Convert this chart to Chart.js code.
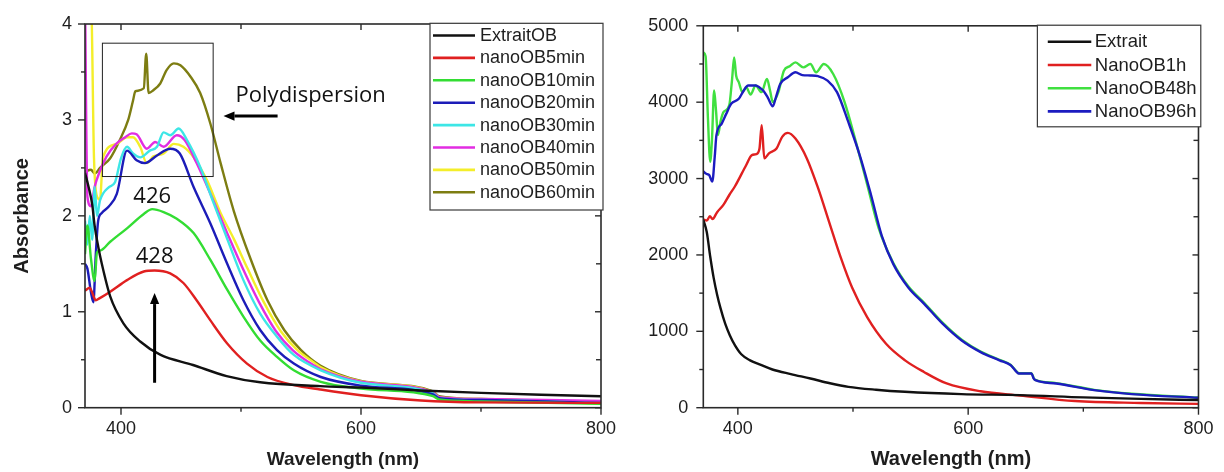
<!DOCTYPE html>
<html>
<head>
<meta charset="utf-8">
<title>UV-Vis absorbance spectra</title>
<script src="https://cdn.jsdelivr.net/npm/chart.js@4.4.0/dist/chart.umd.min.js"></script>
<style>
  html, body { margin: 0; padding: 0; background: #ffffff; }
  #wrap { position: relative; width: 1224px; height: 472px; overflow: hidden; background: #ffffff; }
  canvas { position: absolute; top: 0; }
  #left { left: 0; }
  #right { left: 630px; }
</style>
</head>
<body>
<div id="wrap">
  <canvas id="left" width="630" height="472"></canvas>
  <canvas id="right" width="594" height="472"></canvas>
</div>
<script>
// ---------- Panel A: synthesis time series (absorbance) ----------
const wlExtraitOB = [370, 373, 376, 378, 381, 384, 391, 402, 416, 433, 460, 488, 516, 566, 600, 650, 700, 750, 800];
const absExtraitOB = [2.45, 2.3, 2.12, 1.9, 1.68, 1.5, 1.16, 0.88, 0.69, 0.55, 0.445, 0.33, 0.265, 0.225, 0.21, 0.18, 0.155, 0.135, 0.12];

const wl5min = [370, 374, 376, 379, 382, 391, 405, 419, 428, 441, 452, 463, 474.5, 488.5, 505, 522, 544, 566, 600, 650, 700, 800];
const abs5min = [1.22, 1.25, 1.2, 1.12, 1.14, 1.21, 1.33, 1.42, 1.43, 1.40, 1.30, 1.12, 0.91, 0.67, 0.46, 0.32, 0.236, 0.19, 0.13, 0.075, 0.055, 0.05];

const wl10min = [370, 372, 375, 378, 380, 383, 391, 405, 419, 426, 435.5, 446.5, 460.5, 474.5, 488.5, 502, 516, 530, 544, 566.5, 600, 660, 665, 700, 800];
const abs10min = [1.6, 1.9, 1.55, 1.32, 1.62, 1.64, 1.73, 1.87, 2.02, 2.07, 2.04, 1.97, 1.82, 1.54, 1.23, 0.95, 0.70, 0.53, 0.39, 0.27, 0.2, 0.12, 0.085, 0.065, 0.04];

const wl20min = [370, 372, 375, 377, 379, 381, 384, 390, 396.5, 405, 413, 420, 430, 441, 449, 460.5, 474.5, 488.5, 502, 516, 530, 544, 566.5, 600, 660, 665, 700, 800];
const abs20min = [1.5, 1.45, 1.2, 1.1, 1.6, 1.95, 2.03, 2.1, 2.23, 2.68, 2.58, 2.55, 2.63, 2.70, 2.65, 2.30, 1.92, 1.50, 1.12, 0.81, 0.60, 0.46, 0.32, 0.23, 0.14, 0.1, 0.08, 0.05];

const wl30min = [370, 372, 374, 376, 378, 380, 382.5, 390, 395, 400, 405, 410, 416, 424, 430, 435.5, 441, 448, 455, 466, 477, 488.5, 502, 516, 530, 544, 566.5, 600, 660, 665, 700, 800];
const abs30min = [1.95, 1.7, 2.0, 1.75, 2.3, 2.0, 2.16, 2.3, 2.35, 2.6, 2.72, 2.65, 2.61, 2.68, 2.72, 2.87, 2.84, 2.91, 2.79, 2.51, 2.14, 1.76, 1.33, 0.98, 0.74, 0.55, 0.39, 0.26, 0.15, 0.1, 0.08, 0.05];

const wl40min = [370, 372, 375, 378, 382.5, 388, 396, 403.5, 409, 413, 421.5, 428.5, 435.5, 446.5, 453, 463, 474.5, 488.5, 501.5, 515, 529, 543, 557, 566.5, 600, 660, 665, 700, 800];
const abs40min = [4.3, 2.2, 2.1, 2.3, 2.47, 2.62, 2.75, 2.82, 2.86, 2.85, 2.70, 2.77, 2.72, 2.84, 2.79, 2.55, 2.23, 1.82, 1.45, 1.10, 0.80, 0.60, 0.47, 0.40, 0.27, 0.16, 0.11, 0.09, 0.07];

const wl50min = [370, 375, 377.5, 380, 382.5, 385, 396.5, 405, 410, 416, 421.5, 427, 435.5, 444, 452, 460.5, 471.7, 483, 494, 505.5, 519, 533, 547, 561, 566.5, 600, 660, 665, 700, 800];
const abs50min = [4.4, 4.3, 2.6, 2.2, 2.17, 2.61, 2.75, 2.82, 2.82, 2.72, 2.55, 2.62, 2.65, 2.75, 2.72, 2.61, 2.37, 2.03, 1.76, 1.45, 1.10, 0.80, 0.60, 0.47, 0.42, 0.275, 0.165, 0.11, 0.09, 0.04];

const wl60min = [370, 375, 378, 382.5, 391, 399, 406, 410, 412, 419, 421, 423, 427, 432.7, 438, 444, 449.5, 458, 466, 474.5, 483, 494, 508, 522, 536, 550, 566, 600, 660, 665, 700, 800];
const abs60min = [2.46, 2.48, 2.44, 2.5, 2.6, 2.79, 3.0, 3.2, 3.3, 3.33, 3.69, 3.28, 3.31, 3.38, 3.52, 3.59, 3.57, 3.45, 3.28, 2.96, 2.55, 2.05, 1.55, 1.12, 0.81, 0.60, 0.44, 0.28, 0.17, 0.12, 0.09, 0.05];

// ---------- Panel B: ageing series ----------
const wlExtrait = [370, 373, 376, 379, 382, 385, 389, 393, 397.4, 403, 410.6, 420, 430, 446, 463, 480, 496, 520, 545, 594, 645, 700, 750, 800];
const valExtrait = [2460, 2300, 1980, 1700, 1480, 1300, 1100, 950, 820, 700, 620, 560, 500, 440, 382, 320, 273, 235, 208, 178, 165, 135, 115, 100];

const wl1h = [370, 373, 375.7, 378, 382, 387.6, 392.7, 397.4, 407.3, 412.2, 416, 418.8, 420.7, 423, 427, 433.6, 438.5, 443.4, 450, 459.9, 469.7, 479.5, 489.4, 499.2, 512.4, 528.7, 545.2, 561.6, 581.3, 610.8, 645, 692.9, 750, 800];
const val1h = [2467, 2450, 2506, 2470, 2560, 2658, 2788, 2896, 3178, 3308, 3320, 3394, 3698, 3264, 3329, 3394, 3546, 3598, 3524, 3264, 2874, 2420, 1964, 1573, 1183, 837, 620, 468, 317, 215, 160, 87, 62, 50];

const wl48h = [370, 372, 374, 376, 377.5, 379.4, 381, 382.7, 385, 387.6, 392.5, 395, 396.8, 398.5, 400.8, 404, 407.3, 411, 415.5, 420.5, 425.3, 428, 430.3, 435.2, 440, 445, 450, 456.8, 463, 468, 474.6, 482.8, 492.7, 502.5, 512.4, 522.2, 535, 548, 562, 578, 594.4, 610.8, 627.2, 637, 642, 644, 655, 657, 658.4, 676.5, 709.3, 742, 800];
const val48h = [4650, 4600, 3800, 3219, 3500, 4153, 3900, 3570, 3750, 3871, 3958, 4300, 4586, 4350, 4262, 4131, 4196, 4100, 4218, 4131, 4304, 4150, 4001, 4131, 4413, 4470, 4521, 4456, 4500, 4391, 4499, 4369, 4001, 3481, 2918, 2354, 1895, 1590, 1370, 1110, 890, 735, 628, 560, 475, 452, 452, 385, 365, 322, 234, 182, 133];

const wl96h = [370, 373, 375, 377.8, 380, 381.4, 386, 390, 394.2, 400.8, 405, 409, 415.5, 419, 422, 426, 430.3, 433, 436.8, 443.4, 450, 456, 463, 469.7, 477.9, 486.1, 495.9, 505.8, 515.6, 525, 535, 548, 562, 578, 594.4, 610.8, 627.2, 637, 642, 644, 655, 657, 658.4, 676.5, 709.3, 742, 800];
const val96h = [3091, 3060, 3048, 2961, 3300, 3568, 3720, 3850, 3979, 4044, 4150, 4218, 4218, 4190, 4153, 4060, 3945, 4060, 4239, 4326, 4391, 4355, 4350, 4340, 4283, 4131, 3741, 3308, 2788, 2250, 1880, 1575, 1357, 1097, 880, 728, 620, 555, 470, 447, 447, 380, 360, 317, 230, 178, 130];

// ---------- Axis ticks ----------
const xMajor = [400, 600, 800];
const xMinor = [500, 700];
const yMajorA = [0, 1, 2, 3, 4];
const yMinorA = [0.5, 1.5, 2.5, 3.5];
const yMajorB = [0, 1000, 2000, 3000, 4000, 5000];
const yMinorB = [500, 1500, 2500, 3500, 4500];

// ---------- Annotations on panel A (data units) ----------
const polyBox = { x0: 384.5, x1: 476.8, y0: 2.41, y1: 3.80 };
const noteTexts = [
  { text: 'Polydispersion', x: 495.5, y: 3.19, align: 'left' },
  { text: '426', x: 426, y: 2.135, align: 'center' },
  { text: '428', x: 428, y: 1.504, align: 'center' }
];
const noteArrows = [
  { x0: 530.5, y0: 3.04, x1: 485.4, y1: 3.04 },
  { x0: 428, y0: 0.26, x1: 428, y1: 1.195 }
];

const FONT = "'Liberation Sans', Arial, Helvetica, sans-serif";
Chart.defaults.font.family = FONT;
Chart.defaults.color = '#1e1e1e';

const pts = (w, v) => w.map((x, i) => ({ x, y: v[i] }));

const seriesA = [
  { label: 'ExtraitOB',   wl: wlExtraitOB, v: absExtraitOB, color: '#111111' },
  { label: 'nanoOB5min',  wl: wl5min,  v: abs5min,  color: '#e02020' },
  { label: 'nanoOB10min', wl: wl10min, v: abs10min, color: '#33dd33' },
  { label: 'nanoOB20min', wl: wl20min, v: abs20min, color: '#1c1cb8' },
  { label: 'nanoOB30min', wl: wl30min, v: abs30min, color: '#3de6e6' },
  { label: 'nanoOB40min', wl: wl40min, v: abs40min, color: '#e22de2' },
  { label: 'nanoOB50min', wl: wl50min, v: abs50min, color: '#f4ee2a' },
  { label: 'nanoOB60min', wl: wl60min, v: abs60min, color: '#7d7d12' }
];
const seriesB = [
  { label: 'Extrait',   wl: wlExtrait, v: valExtrait, color: '#111111', order: 0 },
  { label: 'NanoOB1h',  wl: wl1h,  v: val1h,  color: '#e02020', order: 1 },
  { label: 'NanoOB48h', wl: wl48h, v: val48h, color: '#40e040', order: 3 },
  { label: 'NanoOB96h', wl: wl96h, v: val96h, color: '#1c1cc0', order: 2 }
];

// Box frame with Origin-style ticks: outward on left/bottom, inward on top/right
const framePlugin = {
  id: 'frame',
  afterDatasetsDraw(chart, args, o) {
    const { ctx, chartArea: a, scales: { x, y } } = chart;
    ctx.save();
    ctx.strokeStyle = '#2a2a2a';
    ctx.lineWidth = 1.6;
    ctx.strokeRect(a.left, a.top, a.right - a.left, a.bottom - a.top);
    ctx.lineWidth = 1.4;
    const seg = (x1, y1, x2, y2) => { ctx.beginPath(); ctx.moveTo(x1, y1); ctx.lineTo(x2, y2); ctx.stroke(); };
    o.xMajor.forEach(v => { const p = x.getPixelForValue(v); seg(p, a.bottom, p, a.bottom + 7); seg(p, a.top, p, a.top + 6); });
    o.xMinor.forEach(v => { const p = x.getPixelForValue(v); seg(p, a.bottom, p, a.bottom + 4); seg(p, a.top, p, a.top + 5); });
    o.yMajor.forEach(v => { const p = y.getPixelForValue(v); seg(a.left - 7, p, a.left, p); seg(a.right, p, a.right - 6, p); });
    o.yMinor.forEach(v => { const p = y.getPixelForValue(v); seg(a.left - 4, p, a.left, p); seg(a.right, p, a.right - 5, p); });
    ctx.restore();
  }
};

// Boxed legend in the upper right corner of the plot
const boxLegendPlugin = {
  id: 'boxLegend',
  afterDraw(chart, args, o) {
    const { ctx, chartArea: a } = chart;
    const x0 = a.right + o.dx - o.w, y0 = a.top + o.dy;
    ctx.save();
    ctx.fillStyle = '#ffffff';
    ctx.fillRect(x0, y0, o.w, o.h);
    ctx.strokeStyle = '#3a3a3a';
    ctx.lineWidth = 1.2;
    ctx.strokeRect(x0, y0, o.w, o.h);
    ctx.font = o.fontSize + 'px ' + FONT;
    ctx.textBaseline = 'middle';
    ctx.textAlign = 'left';
    chart.data.datasets.forEach((ds, i) => {
      const ry = y0 + o.first + i * o.pitch;
      ctx.strokeStyle = ds.borderColor;
      ctx.lineWidth = 2.6;
      ctx.beginPath(); ctx.moveTo(x0 + o.s0, ry); ctx.lineTo(x0 + o.s1, ry); ctx.stroke();
      ctx.fillStyle = '#1e1e1e';
      ctx.fillText(ds.label, x0 + o.tx, ry + 0.5);
    });
    ctx.restore();
  }
};

// Peak labels, polydispersion box and arrows
const notesPlugin = {
  id: 'notes',
  afterDatasetsDraw(chart) {
    const { ctx, scales: { x, y } } = chart;
    ctx.save();
    ctx.strokeStyle = '#222222';
    ctx.lineWidth = 1;
    const bx0 = x.getPixelForValue(polyBox.x0), bx1 = x.getPixelForValue(polyBox.x1);
    const by0 = y.getPixelForValue(polyBox.y0), by1 = y.getPixelForValue(polyBox.y1);
    ctx.strokeRect(bx0, by1, bx1 - bx0, by0 - by1);

    ctx.fillStyle = '#111111';
    ctx.font = "22px 'Open Sans', 'Noto Sans', sans-serif";
    ctx.textBaseline = 'alphabetic';
    noteTexts.forEach(t => {
      ctx.textAlign = t.align;
      ctx.fillText(t.text, x.getPixelForValue(t.x), y.getPixelForValue(t.y));
    });

    noteArrows.forEach(ar => {
      const px0 = x.getPixelForValue(ar.x0), py0 = y.getPixelForValue(ar.y0);
      const px1 = x.getPixelForValue(ar.x1), py1 = y.getPixelForValue(ar.y1);
      const ang = Math.atan2(py1 - py0, px1 - px0);
      const head = 11, half = 4.6;
      const bx = px1 - head * Math.cos(ang), by = py1 - head * Math.sin(ang);
      ctx.strokeStyle = '#000000';
      ctx.lineWidth = 3;
      ctx.beginPath(); ctx.moveTo(px0, py0); ctx.lineTo(bx, by); ctx.stroke();
      ctx.fillStyle = '#000000';
      ctx.beginPath();
      ctx.moveTo(px1, py1);
      ctx.lineTo(bx + half * Math.sin(ang), by - half * Math.cos(ang));
      ctx.lineTo(bx - half * Math.sin(ang), by + half * Math.cos(ang));
      ctx.closePath();
      ctx.fill();
    });
    ctx.restore();
  }
};

function buildChart(canvasId, series, cfg) {
  return new Chart(document.getElementById(canvasId), {
    type: 'line',
    data: {
      datasets: series.map(s => ({
        label: s.label,
        data: pts(s.wl, s.v),
        borderColor: s.color,
        backgroundColor: s.color,
        borderWidth: 2.4,
        pointRadius: 0,
        fill: false,
        cubicInterpolationMode: 'monotone',
        order: s.order === undefined ? 0 : s.order
      }))
    },
    options: {
      responsive: false,
      animation: false,
      events: [],
      layout: { padding: { left: 0, right: cfg.padRight, top: cfg.padTop, bottom: 0 } },
      plugins: {
        legend: { display: false },
        tooltip: { enabled: false },
        frame: { xMajor, xMinor, yMajor: cfg.yMajor, yMinor: cfg.yMinor },
        boxLegend: cfg.legend
      },
      scales: {
        x: {
          type: 'linear', min: 370, max: 800,
          afterBuildTicks: s => { s.ticks = xMajor.map(v => ({ value: v })); },
          afterFit: s => { s.height = cfg.xHeight; },
          grid: { display: false, drawTicks: false },
          border: { display: false },
          ticks: { padding: 10.5, font: { size: 18 }, color: '#1e1e1e', maxRotation: 0, autoSkip: false, callback: v => String(v) },
          title: { display: true, text: 'Wavelength (nm)', font: { size: cfg.titleSize, weight: 'bold' }, color: '#1e1e1e', padding: { top: 0, bottom: cfg.titlePad } }
        },
        y: {
          type: 'linear', min: cfg.yMin, max: cfg.yMax,
          afterBuildTicks: s => { s.ticks = cfg.yMajor.map(v => ({ value: v })); },
          afterFit: s => { s.width = cfg.yWidth; },
          grid: { display: false, drawTicks: false },
          border: { display: false },
          ticks: { padding: cfg.yPad, font: { size: 18 }, color: '#1e1e1e', autoSkip: false, callback: v => String(v) },
          title: cfg.yTitle
            ? { display: true, text: cfg.yTitle, font: { size: 20, weight: 'bold' }, color: '#1e1e1e', padding: { top: 10, bottom: 0 } }
            : { display: false }
        }
      }
    },
    plugins: cfg.extra ? [framePlugin, cfg.extra, boxLegendPlugin] : [framePlugin, boxLegendPlugin]
  });
}

buildChart('left', seriesA, {
  padRight: 29, padTop: 24, xHeight: 64.3, yWidth: 85, yPad: 13,
  yMin: 0, yMax: 4, yMajor: yMajorA, yMinor: yMinorA,
  titleSize: 19, titlePad: 1, yTitle: 'Absorbance',
  legend: { dx: 2, dy: -0.7, w: 173, h: 186.7, first: 12.2, pitch: 22.4, s0: 3, s1: 45, tx: 50, fontSize: 18 },
  extra: notesPlugin
});

buildChart('right', seriesB, {
  padRight: 16.3, padTop: 23.3, xHeight: 64.3, yWidth: 73.3, yPad: 15,
  yMin: 0, yMax: 5000, yMajor: yMajorB, yMinor: yMinorB,
  titleSize: 20, titlePad: 1, yTitle: null,
  legend: { dx: 2.3, dy: -0.6, w: 163.4, h: 101.6, first: 16.6, pitch: 23.2, s0: 10.4, s1: 53.9, tx: 57.4, fontSize: 18.5 }
});
</script>
</body>
</html>
